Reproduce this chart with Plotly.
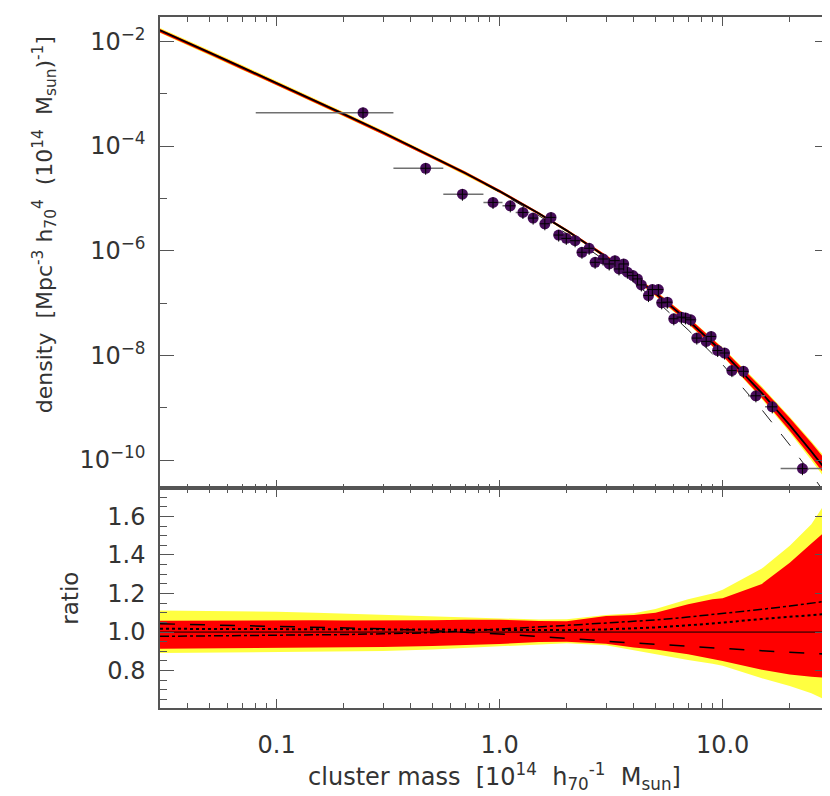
import plotly.graph_objects as go
from plotly.subplots import make_subplots

# mass grid of the model curves [1e14 h70^-1 Msun]
mass_grid = [0.03, 0.04, 0.05, 0.07, 0.1, 0.15, 0.2, 0.3, 0.5, 0.7, 1.0, 1.5,
             2.0, 3.0, 4.0, 5.0, 7.0, 9.0, 10.0, 15.0, 20.0, 25.0, 30.0]

# best-fit mass function
model_density = [1.62e-2, 9.44e-3, 6.10e-3, 3.18e-3, 1.59e-3, 7.19e-4, 4.06e-4,
                 1.81e-4, 6.31e-5, 3.06e-5, 1.37e-5, 5.12e-6, 2.42e-6, 7.62e-7,
                 3.17e-7, 1.53e-7, 4.66e-8, 1.77e-8, 1.16e-8, 1.91e-9, 4.66e-10,
                 1.46e-10, 5.41e-11]

# alternative (dashed) mass function
alt_density = [1.62e-2, 9.44e-3, 6.10e-3, 3.18e-3, 1.59e-3, 7.19e-4, 4.06e-4,
               1.81e-4, 6.31e-5, 3.03e-5, 1.31e-5, 4.67e-6, 2.11e-6, 6.27e-7,
               2.46e-7, 1.14e-7, 3.08e-8, 1.07e-8, 6.67e-9, 9.14e-10, 1.94e-10,
               5.42e-11, 1.79e-11]

# confidence bands as ratio to the best fit
band2_hi = [1.112, 1.111, 1.110, 1.108, 1.105, 1.100, 1.096, 1.090, 1.082, 1.076,
            1.070, 1.065, 1.066, 1.088, 1.098, 1.120, 1.170, 1.200, 1.220, 1.330,
            1.448, 1.560, 1.700]
band1_hi = [1.059, 1.060, 1.060, 1.061, 1.062, 1.061, 1.060, 1.060, 1.062, 1.064,
            1.064, 1.058, 1.056, 1.083, 1.088, 1.100, 1.145, 1.170, 1.175, 1.250,
            1.360, 1.460, 1.540]
band1_lo = [0.913, 0.914, 0.915, 0.916, 0.918, 0.918, 0.919, 0.922, 0.928, 0.933,
            0.938, 0.948, 0.950, 0.940, 0.920, 0.910, 0.885, 0.860, 0.850, 0.805,
            0.780, 0.768, 0.762]
band2_lo = [0.891, 0.892, 0.893, 0.895, 0.897, 0.897, 0.898, 0.902, 0.910, 0.918,
            0.928, 0.938, 0.942, 0.932, 0.905, 0.885, 0.855, 0.835, 0.825, 0.760,
            0.720, 0.682, 0.640]

# other fits, as ratio to the best fit
ratio_dashed = [1.043, 1.040, 1.038, 1.034, 1.031, 1.027, 1.024, 1.017, 1.007, 1.000,
                0.990, 0.977, 0.966, 0.953, 0.943, 0.937, 0.928, 0.919, 0.915, 0.903,
                0.895, 0.889, 0.885]
ratio_dotted = [1.017, 1.017, 1.016, 1.016, 1.015, 1.015, 1.014, 1.014, 1.013, 1.012,
                1.010, 1.009, 1.010, 1.014, 1.019, 1.024, 1.035, 1.044, 1.049, 1.068,
                1.080, 1.088, 1.095]
ratio_dashdot = [0.978, 0.979, 0.980, 0.982, 0.983, 0.985, 0.987, 0.991, 0.997, 1.006,
                 1.015, 1.027, 1.035, 1.047, 1.056, 1.063, 1.078, 1.090, 1.095, 1.118,
                 1.135, 1.150, 1.162]

# measured cluster mass function
obs_mass = [0.244, 0.466, 0.681, 0.934, 1.116, 1.272, 1.413, 1.595, 1.70, 1.84, 1.99,
            2.18, 2.34, 2.52, 2.68, 2.91, 3.10, 3.29, 3.43, 3.60, 3.74, 3.96, 4.15,
            4.32, 4.65, 4.84, 5.15, 5.33, 5.65, 6.04, 6.54, 6.82, 7.2, 7.66, 8.44,
            8.88, 9.5, 10.2, 11.0, 12.4, 14.1, 16.7, 22.8]
obs_density = [4.33e-4, 3.76e-5, 1.20e-5, 8.36e-6, 7.2e-6, 5.38e-6, 4.2e-6, 3.27e-6,
               4.33e-6, 1.99e-6, 1.72e-6, 1.55e-6, 9.33e-7, 1.11e-6, 6.0e-7, 6.95e-7,
               5.58e-7, 6.46e-7, 4.48e-7, 5.58e-7, 3.88e-7, 3.34e-7, 2.89e-7, 2.22e-7,
               1.39e-7, 1.81e-7, 1.81e-7, 1.01e-7, 1.04e-7, 5.0e-8, 5.38e-8, 5.2e-8,
               4.79e-8, 2.14e-8, 1.85e-8, 2.30e-8, 1.24e-8, 1.11e-8, 5.12e-9, 4.96e-9,
               1.69e-9, 1.04e-9, 6.86e-11]

# wide mass bins (drawn as horizontal bars)
bin_mass = [0.244, 0.466, 0.681, 0.934, 1.116, 1.272, 14.1, 16.7, 22.8]
bin_density = [4.33e-4, 3.76e-5, 1.20e-5, 8.36e-6, 7.2e-6, 5.38e-6, 1.69e-9, 1.04e-9, 6.86e-11]
bin_lo = [0.0806, 0.334, 0.559, 0.846, 1.03, 1.18, 13.0, 15.5, 18.2]
bin_hi = [0.334, 0.559, 0.846, 1.03, 1.18, 1.36, 15.5, 17.5, 29.7]

x_ticks = [0.1, 1.0, 10.0]
x_ticktext = ["0.1", "1.0", "10.0"]
y_ticks = [1e-10, 1e-8, 1e-6, 1e-4, 1e-2]
y_ticktext = ["10<sup>−10</sup>", "10<sup>−8</sup>", "10<sup>−6</sup>",
              "10<sup>−4</sup>", "10<sup>−2</sup>"]
r_ticks = [0.8, 1.0, 1.2, 1.4, 1.6]
r_ticktext = ["0.8", "1.0", "1.2", "1.4", "1.6"]

YELLOW = "#ffff40"
RED = "#ff0000"
PURPLE = "#470d5a"
AXIS = "#555555"
INK = "#333333"
FONT = "DejaVu Sans"

fig = make_subplots(rows=2, cols=1, shared_xaxes=True, vertical_spacing=0,
                    row_heights=[472, 220])


def band(row, lo, hi, color):
    fig.add_trace(go.Scatter(x=mass_grid, y=lo, mode="lines", line=dict(width=0),
                             showlegend=False, hoverinfo="skip"), row=row, col=1)
    fig.add_trace(go.Scatter(x=mass_grid, y=hi, mode="lines", line=dict(width=0),
                             fill="tonexty", fillcolor=color, showlegend=False,
                             hoverinfo="skip"), row=row, col=1)


# --- top panel: mass function
band(1, [m * r for m, r in zip(model_density, band2_lo)],
     [m * r for m, r in zip(model_density, band2_hi)], YELLOW)
band(1, [m * r for m, r in zip(model_density, band1_lo)],
     [m * r for m, r in zip(model_density, band1_hi)], RED)
fig.add_trace(go.Scatter(x=mass_grid, y=alt_density, mode="lines",
                         line=dict(color="#222", width=1, dash="longdash"),
                         showlegend=False), row=1, col=1)
fig.add_trace(go.Scatter(x=mass_grid, y=model_density, mode="lines",
                         line=dict(color="black", width=1.8), showlegend=False),
              row=1, col=1)
fig.add_trace(go.Scatter(
    x=bin_mass, y=bin_density, mode="markers",
    marker=dict(size=1, color="rgba(0,0,0,0)"),
    error_x=dict(type="data", symmetric=False,
                 array=[h - m for h, m in zip(bin_hi, bin_mass)],
                 arrayminus=[m - l for m, l in zip(bin_mass, bin_lo)],
                 color="#707070", thickness=1.5, width=0),
    showlegend=False), row=1, col=1)
fig.add_trace(go.Scatter(x=obs_mass, y=obs_density, mode="markers",
                         marker=dict(size=11, color=PURPLE, line=dict(width=0)),
                         showlegend=False), row=1, col=1)
fig.add_trace(go.Scatter(
    x=obs_mass, y=obs_density, mode="markers",
    marker=dict(size=1, color="rgba(0,0,0,0)"),
    error_x=dict(type="percent", value=5, color="black", thickness=1, width=0),
    error_y=dict(type="percent", value=25, color="black", thickness=1, width=0),
    showlegend=False), row=1, col=1)

# --- bottom panel: ratio
band(2, band2_lo, band2_hi, YELLOW)
band(2, band1_lo, band1_hi, RED)
fig.add_trace(go.Scatter(x=[mass_grid[0], mass_grid[-1]], y=[1.0, 1.0], mode="lines",
                         line=dict(color="black", width=1), showlegend=False),
              row=2, col=1)
fig.add_trace(go.Scatter(x=mass_grid, y=ratio_dashed, mode="lines",
                         line=dict(color="black", width=1.5, dash="longdash"),
                         showlegend=False), row=2, col=1)
fig.add_trace(go.Scatter(x=mass_grid, y=ratio_dotted, mode="lines",
                         line=dict(color="black", width=2, dash="dot"),
                         showlegend=False), row=2, col=1)
fig.add_trace(go.Scatter(x=mass_grid, y=ratio_dashdot, mode="lines",
                         line=dict(color="black", width=1.5, dash="dashdot"),
                         showlegend=False), row=2, col=1)

x_minor = [m * 10 ** e for e in (-2, -1, 0, 1) for m in range(2, 10)]
axis_style = dict(showline=True, linecolor=AXIS, linewidth=1.5, mirror="ticks",
                  ticks="inside", tickcolor=AXIS, showgrid=False, zeroline=False,
                  tickfont=dict(family=FONT, size=24, color=INK))

fig.update_xaxes(type="log", range=[-1.523, 1.477], tickvals=x_ticks,
                 ticktext=x_ticktext, ticklen=9, tickwidth=1.3,
                 minor=dict(tickvals=x_minor, ticks="inside", ticklen=5,
                            tickcolor=AXIS, tickwidth=1),
                 **axis_style)
fig.update_xaxes(showticklabels=False, row=1, col=1)
fig.update_xaxes(ticklabelstandoff=14,
                 title=dict(text="cluster mass  [10<sup>14</sup>  h<sub>70</sub><sup>-1</sup>  M<sub>sun</sub>]",
                            font=dict(family=FONT, size=24, color=INK), standoff=2),
                 row=2, col=1)

fig.update_yaxes(type="log", range=[-10.54, -1.535], tickvals=y_ticks,
                 ticktext=y_ticktext, ticklen=14, tickwidth=1.3, ticklabelstandoff=8,
                 minor=dict(tickvals=[1e-9, 1e-7, 1e-5, 1e-3], ticks="inside",
                            ticklen=7, tickcolor=AXIS, tickwidth=1),
                 row=1, col=1, **axis_style)
fig.update_yaxes(range=[0.606, 1.746], tickvals=r_ticks, ticktext=r_ticktext,
                 ticklen=14, tickwidth=1.3, ticklabelstandoff=8,
                 minor=dict(dtick=0.05, ticks="inside", ticklen=7,
                            tickcolor=AXIS, tickwidth=1),
                 title=dict(text="ratio", font=dict(family=FONT, size=23, color=INK),
                            standoff=22),
                 row=2, col=1, **axis_style)

# y title of the top panel sits a little above the panel centre in the original
fig.add_annotation(
    text="density  [Mpc<sup>-3</sup> h<sub>70</sub><sup>4</sup>  (10<sup>14</sup>  M<sub>sun</sub>)<sup>-1</sup>]",
    xref="paper", yref="paper", x=-0.172, y=0.70, textangle=-90, showarrow=False,
    xanchor="center", yanchor="middle", font=dict(family=FONT, size=22, color=INK))

fig.update_layout(width=830, height=796, margin=dict(l=152, r=7, t=8, b=96),
                  paper_bgcolor="white", plot_bgcolor="white", showlegend=False,
                  font=dict(family=FONT, color=INK))

fig.write_html("out.html")
